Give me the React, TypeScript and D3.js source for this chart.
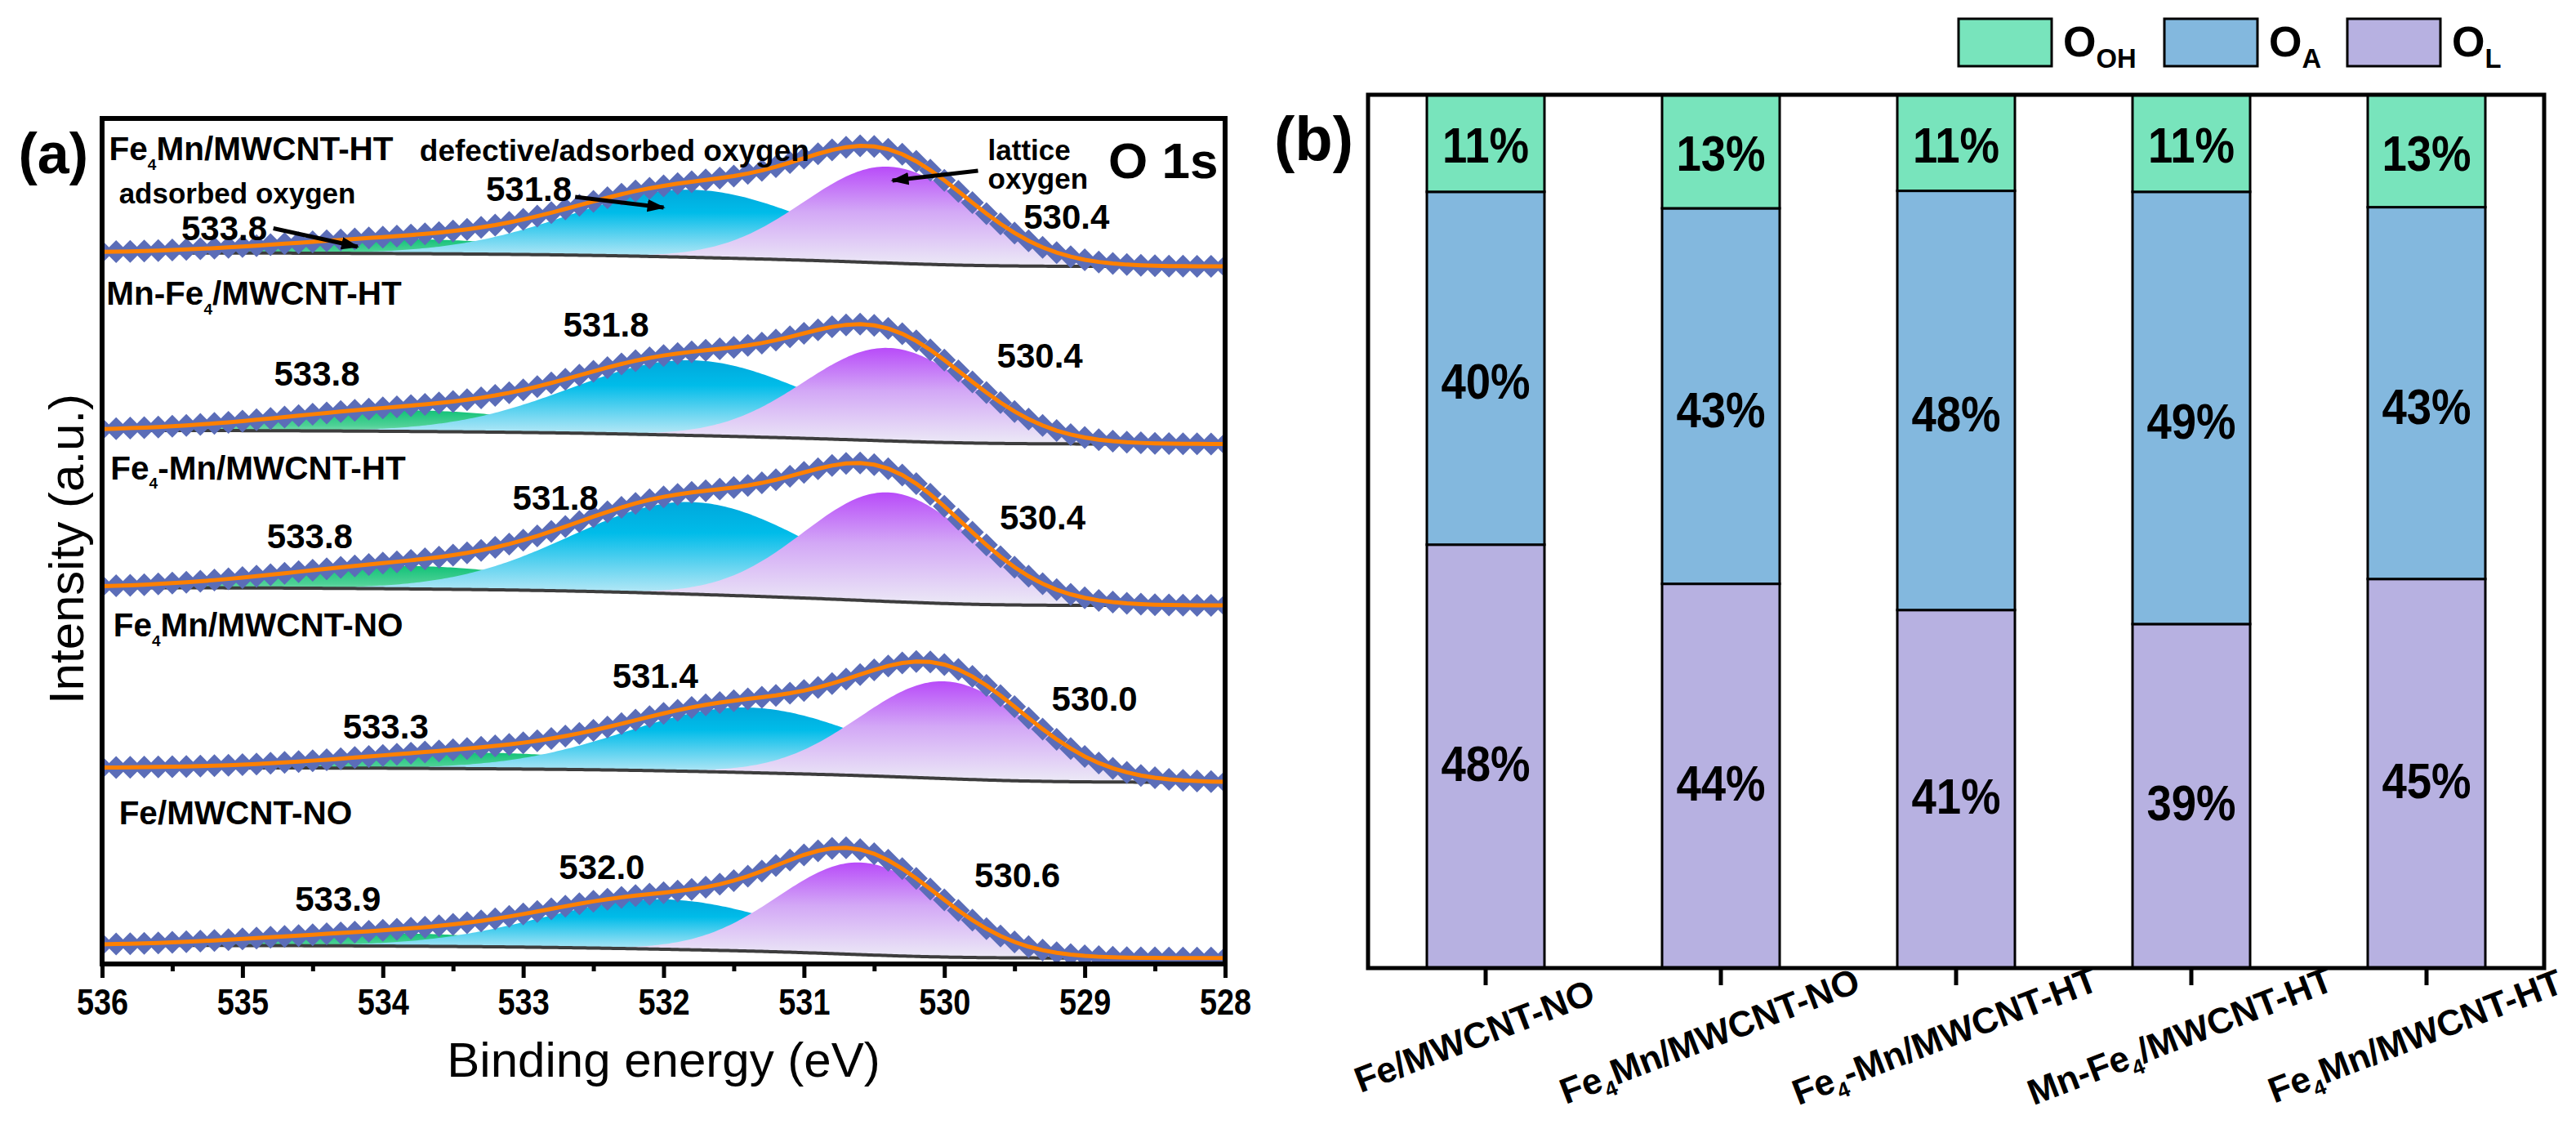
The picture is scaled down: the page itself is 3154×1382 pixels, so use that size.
import * as d3 from "d3";
import { useEffect, useRef } from "react";

const W = 3154;
const H = 1382;
const FONT = "'Liberation Sans', Arial, Helvetica, sans-serif";

// ---------- (a) O 1s spectra, listed top to bottom ----------
// Intensity is in arbitrary units (stacked offsets). Component peaks are the
// fitted Gaussian components, given by centre / amplitude / sigma.
const SPEC_LABELS = [
  "Fe_{4}Mn/MWCNT-HT",
  "Mn-Fe_{4}/MWCNT-HT",
  "Fe_{4}-Mn/MWCNT-HT",
  "Fe_{4}Mn/MWCNT-NO",
  "Fe/MWCNT-NO",
];
const BG_536 = [84.1, 63.1, 44.5, 23.2, 2.2]; // background level, high-BE side
const BG_528 = [82.5, 61.5, 42.4, 21.5, 0.7]; // background level, low-BE side
const OH_POS = [533.8, 533.8, 533.8, 533.3, 533.9];
const OH_AMP = [1.7, 2.5, 2.7, 1.9, 1.5];
const OH_SIG = [0.95, 0.95, 0.95, 0.95, 0.95];
const OA_POS = [531.8, 531.8, 531.8, 531.4, 532.0];
const OA_AMP = [8.0, 8.9, 10.9, 7.7, 5.9];
const OA_SIG = [0.85, 0.85, 0.85, 0.85, 0.85];
const OL_POS = [530.4, 530.4, 530.4, 530.0, 530.6];
const OL_AMP = [11.4, 11.0, 12.9, 11.5, 10.9];
const OL_SIG = [0.6, 0.6, 0.6, 0.6, 0.58];
const X_TICKS = [536, 535, 534, 533, 532, 531, 530, 529, 528];
const X_MINOR = [535.5, 534.5, 533.5, 532.5, 531.5, 530.5, 529.5, 528.5];

// where the labels sit, in (eV, intensity) units
const SAMPLE_LBL_E = [535.95, 535.97, 535.94, 535.92, 535.88];
const SAMPLE_LBL_I = [96.4, 79.3, 58.7, 40.1, 17.9];
// [OH, OA, OL] label positions per spectrum
const PEAK_LBL_E = [
  [535.13, 532.96, 529.13],
  [534.47, 532.41, 529.32],
  [534.52, 532.77, 529.3],
  [533.98, 532.06, 528.93],
  [534.32, 532.44, 529.48],
];
const PEAK_LBL_I = [
  [87.0, 91.69, 88.41],
  [69.86, 75.65, 71.98],
  [50.63, 55.17, 52.85],
  [28.12, 34.11, 31.4],
  [7.73, 11.5, 10.53],
];

// ---------- (b) surface oxygen fractions ----------
const BAR_SAMPLES = [
  "Fe/MWCNT-NO",
  "Fe_{4}Mn/MWCNT-NO",
  "Fe_{4}-Mn/MWCNT-HT",
  "Mn-Fe_{4}/MWCNT-HT",
  "Fe_{4}Mn/MWCNT-HT",
];
const O_L = [48, 44, 41, 39, 45];
const O_A = [40, 43, 48, 49, 43];
const O_OH = [11, 13, 11, 11, 13];
const LEGEND_KEYS = ["OH", "OA", "OL"];
const LEGEND_LABELS = ["O_{OH}", "O_{A}", "O_{L}"];

const BAR_COLORS: Record<string, string> = {
  OH: "#78E4BC",
  OA: "#83B8DE",
  OL: "#B7B1E1",
};

type Sel = d3.Selection<any, unknown, null, undefined>;

interface TxtOpts {
  size: number;
  weight?: string;
  anchor?: string;
  squeeze?: number;
  rotate?: number;
  sub?: number;
  subDy?: number;
  center?: boolean;
}

// text with "_{..}" subscripts; y is the baseline unless center is set
function richText(g: Sel, label: string, x: number, y: number, o: TxtOpts) {
  const t = g
    .append("text")
    .attr(
      "transform",
      `translate(${x},${y}) rotate(${o.rotate ?? 0}) scale(${o.squeeze ?? 1},1)`,
    )
    .attr("y", o.center ? o.size * 0.35 : 0)
    .attr("font-family", FONT)
    .attr("font-size", o.size)
    .attr("font-weight", o.weight ?? "bold")
    .attr("text-anchor", o.anchor ?? "start")
    .attr("fill", "#000");
  const parts = label.split(/(_\{[^}]*\})/).filter(Boolean);
  const subSize = o.size * (o.sub ?? 0.5);
  const shift = o.size * (o.subDy ?? 0.28);
  let down = false;
  for (const p of parts) {
    const m = p.match(/^_\{([^}]*)\}$/);
    if (m) {
      t.append("tspan").attr("font-size", subSize).attr("dy", shift).text(m[1]);
      down = true;
    } else {
      t.append("tspan").attr("dy", down ? -shift : 0).text(p);
      down = false;
    }
  }
  return t;
}

export default function App() {
  const ref = useRef<SVGSVGElement>(null);

  useEffect(() => {
    if (!ref.current) return;
    const svg = d3.select(ref.current);
    svg.selectAll("*").remove();
    const defs = svg.append("defs");

    // arrow head
    defs
      .append("marker")
      .attr("id", "arrow")
      .attr("markerUnits", "userSpaceOnUse")
      .attr("viewBox", "0 0 20 14")
      .attr("refX", 18)
      .attr("refY", 7)
      .attr("markerWidth", 22)
      .attr("markerHeight", 16)
      .attr("orient", "auto")
      .append("path")
      .attr("d", "M0,0 L20,7 L0,14 Z")
      .attr("fill", "#000");

    // component fills fade from saturated top to pale baseline
    const grads: [string, [number, string][]][] = [
      ["g-oh", [[0, "#12C278"], [0.45, "#4ED196"], [1, "#DDF4E9"]]],
      ["g-oa", [[0, "#00A8DC"], [0.3, "#00BCE9"], [1, "#DCF1F9"]]],
      ["g-ol", [[0, "#B84BF9"], [0.45, "#D3A8F6"], [1, "#ECEAF6"]]],
    ];
    for (const [id, stops] of grads) {
      const lg = defs
        .append("linearGradient")
        .attr("id", id)
        .attr("x1", 0)
        .attr("y1", 0)
        .attr("x2", 0)
        .attr("y2", 1);
      stops.forEach(([o, c]) => lg.append("stop").attr("offset", o).attr("stop-color", c));
    }

    // ================= panel (a) =================
    const A = { left: 125, right: 1500, top: 145, bottom: 1180 };
    const x = d3.scaleLinear().domain([536, 528]).range([A.left, A.right]);
    const y = d3.scaleLinear().domain([0, 100]).range([A.bottom, A.top]);

    defs
      .append("clipPath")
      .attr("id", "clipA")
      .append("rect")
      .attr("x", A.left)
      .attr("y", A.top - 40)
      .attr("width", A.right - A.left)
      .attr("height", A.bottom - A.top + 40);

    const ga = svg.append("g");
    const plot = ga.append("g").attr("clip-path", "url(#clipA)");

    const fine = d3.range(401).map((i) => 536 - i * 0.02);
    const gauss = (e: number, c: number, a: number, s: number) =>
      a * Math.exp(-((e - c) ** 2) / (2 * s * s));
    const diamond = "M0,-14 L14,0 L0,14 L-14,0 Z";

    SPEC_LABELS.forEach((_, k) => {
      const comps = [
        fine.map((e) => gauss(e, OH_POS[k], OH_AMP[k], OH_SIG[k])),
        fine.map((e) => gauss(e, OA_POS[k], OA_AMP[k], OA_SIG[k])),
        fine.map((e) => gauss(e, OL_POS[k], OL_AMP[k], OL_SIG[k])),
      ];
      const total = fine.map((_, i) => comps[0][i] + comps[1][i] + comps[2][i]);
      // Shirley-type background
      const cum: number[] = [];
      let acc = 0;
      for (let i = fine.length - 1; i >= 0; i--) {
        acc += total[i];
        cum[i] = acc;
      }
      const bg = fine.map((_, i) => BG_528[k] + ((BG_536[k] - BG_528[k]) * cum[i]) / acc);

      const ids = ["g-oh", "g-oa", "g-ol"];
      comps.forEach((c, j) => {
        const area = d3
          .area<number>()
          .x((_, i) => x(fine[i]))
          .y0((_, i) => y(bg[i]))
          .y1((d, i) => y(bg[i] + d));
        plot.append("path").attr("d", area(c)).attr("fill", `url(#${ids[j]})`);
      });

      const bgLine = d3
        .line<number>()
        .x((_, i) => x(fine[i]))
        .y((d) => y(d));
      plot
        .append("path")
        .attr("d", bgLine(bg))
        .attr("fill", "none")
        .attr("stroke", "#3d3d3d")
        .attr("stroke-width", 4);

      // measured points every 0.1 eV
      const idx = d3.range(0, fine.length, 5);
      const pts = idx.map((i) => [x(fine[i]), y(bg[i] + total[i])] as [number, number]);
      plot
        .append("g")
        .selectAll("path")
        .data(pts)
        .enter()
        .append("path")
        .attr("d", diamond)
        .attr("transform", (p) => `translate(${p[0]},${p[1]})`)
        .attr("fill", "#5B6DB8");
      plot
        .append("path")
        .attr("d", d3.line()(pts))
        .attr("fill", "none")
        .attr("stroke", "#FF8000")
        .attr("stroke-width", 5);
    });

    // labels
    SPEC_LABELS.forEach((lbl, k) => {
      richText(ga, lbl, x(SAMPLE_LBL_E[k]), y(SAMPLE_LBL_I[k]), {
        size: 40.5,
        center: true,
        sub: 0.47,
        subDy: 0.29,
      });
      const vals = [OH_POS[k], OA_POS[k], OL_POS[k]];
      vals.forEach((v, j) => {
        richText(ga, v.toFixed(1), x(PEAK_LBL_E[k][j]), y(PEAK_LBL_I[k][j]), {
          size: 42,
          anchor: "middle",
          center: true,
        });
      });
    });

    richText(ga, "defective/adsorbed oxygen", x(532.35), y(96.23), {
      size: 37,
      anchor: "middle",
      center: true,
    });
    richText(ga, "adsorbed oxygen", x(535.88), y(91.1), { size: 35, center: true });
    richText(ga, "lattice", x(529.69), y(96.23), { size: 35, center: true });
    richText(ga, "oxygen", x(529.69), y(92.85), { size: 35, center: true });
    richText(ga, "O 1s", x(528.05), y(95.07), { size: 62, anchor: "end", center: true });

    const arrows: [number, number, number, number][] = [
      [532.63, 90.72, 532.0, 89.47],
      [534.78, 87.0, 534.18, 84.83],
      [529.76, 93.82, 530.37, 92.66],
    ];
    arrows.forEach(([e1, i1, e2, i2]) => {
      ga.append("line")
        .attr("x1", x(e1))
        .attr("y1", y(i1))
        .attr("x2", x(e2))
        .attr("y2", y(i2))
        .attr("stroke", "#000")
        .attr("stroke-width", 5)
        .attr("marker-end", "url(#arrow)");
    });

    // axis
    const ax = ga
      .append("g")
      .attr("transform", `translate(0,${A.bottom})`)
      .call(d3.axisBottom(x).tickValues(X_TICKS).tickSize(17).tickFormat(d3.format("d")));
    ax.select(".domain").remove();
    ax.selectAll("line").attr("stroke", "#000").attr("stroke-width", 5);
    ax.selectAll("text")
      .attr("font-family", FONT)
      .attr("font-size", 44)
      .attr("font-weight", "bold")
      .attr("fill", "#000")
      .attr("y", 62)
      .attr("dy", 0)
      .attr("transform", "scale(0.86,1)");
    const axm = ga
      .append("g")
      .attr("transform", `translate(0,${A.bottom})`)
      .call(d3.axisBottom(x).tickValues(X_MINOR).tickSize(9).tickFormat(() => ""));
    axm.select(".domain").remove();
    axm.selectAll("line").attr("stroke", "#000").attr("stroke-width", 5);

    ga.append("rect")
      .attr("x", A.left)
      .attr("y", A.top)
      .attr("width", A.right - A.left)
      .attr("height", A.bottom - A.top)
      .attr("fill", "none")
      .attr("stroke", "#000")
      .attr("stroke-width", 6);

    richText(ga, "Binding energy (eV)", (A.left + A.right) / 2, 1318, {
      size: 60,
      weight: "normal",
      anchor: "middle",
    });
    richText(ga, "Intensity (a.u.)", 102, 672, {
      size: 60,
      weight: "normal",
      anchor: "middle",
      rotate: -90,
    });
    richText(ga, "(a)", 108, 212, { size: 70, anchor: "end" });

    // ================= panel (b) =================
    const B = { left: 1675, right: 3115, top: 116, bottom: 1185 };
    const gb = svg.append("g");
    const xb = d3
      .scaleBand<string>()
      .domain(BAR_SAMPLES)
      .range([B.left, B.right])
      .paddingInner(0.5)
      .paddingOuter(0.25);
    const yb = d3.scaleLinear().domain([0, 1]).range([B.bottom, B.top]);

    const rows = BAR_SAMPLES.map((s, i) => ({ sample: s, OL: O_L[i], OA: O_A[i], OH: O_OH[i] }));
    const series = d3
      .stack<any>()
      .keys(["OL", "OA", "OH"])
      .offset(d3.stackOffsetExpand)(rows);
    const nudge: Record<string, number> = { OL: 8, OA: 16, OH: 2 };

    series.forEach((s) => {
      const key = s.key;
      gb.append("g")
        .selectAll("rect")
        .data(s)
        .enter()
        .append("rect")
        .attr("x", (d) => xb(d.data.sample)!)
        .attr("width", xb.bandwidth())
        .attr("y", (d) => yb(d[1]))
        .attr("height", (d) => yb(d[0]) - yb(d[1]))
        .attr("fill", BAR_COLORS[key])
        .attr("stroke", "#000")
        .attr("stroke-width", 3);
      s.forEach((d) => {
        richText(
          gb,
          `${d.data[key]}%`,
          xb(d.data.sample)! + xb.bandwidth() / 2,
          (yb(d[0]) + yb(d[1])) / 2 + nudge[key],
          { size: 62, anchor: "middle", squeeze: 0.88, center: true },
        );
      });
    });

    gb.append("rect")
      .attr("x", B.left)
      .attr("y", B.top)
      .attr("width", B.right - B.left)
      .attr("height", B.bottom - B.top)
      .attr("fill", "none")
      .attr("stroke", "#000")
      .attr("stroke-width", 5);

    const bx = gb
      .append("g")
      .attr("transform", `translate(0,${B.bottom})`)
      .call(d3.axisBottom(xb).tickSize(21).tickFormat(() => ""));
    bx.select(".domain").remove();
    bx.selectAll("line").attr("stroke", "#000").attr("stroke-width", 5);

    BAR_SAMPLES.forEach((s) => {
      richText(gb, s, xb(s)! + xb.bandwidth() / 2 - 14, 1268, {
        size: 44,
        anchor: "middle",
        rotate: -21,
        center: true,
        sub: 0.6,
        subDy: 0.25,
      });
    });

    richText(gb, "(b)", 1657, 196, { size: 76, anchor: "end" });

    // legend
    const legX = [2398, 2650, 2874];
    LEGEND_KEYS.forEach((k, i) => {
      gb.append("rect")
        .attr("x", legX[i])
        .attr("y", 23)
        .attr("width", 114)
        .attr("height", 58)
        .attr("fill", BAR_COLORS[k])
        .attr("stroke", "#000")
        .attr("stroke-width", 3);
      richText(gb, LEGEND_LABELS[i], legX[i] + 128, 69, {
        size: 52,
        sub: 0.63,
        subDy: 0.27,
      });
    });
  }, []);

  return (
    <svg
      ref={ref}
      width={W}
      height={H}
      style={{ position: "absolute", left: 0, top: 0, background: "#fff" }}
    />
  );
}
